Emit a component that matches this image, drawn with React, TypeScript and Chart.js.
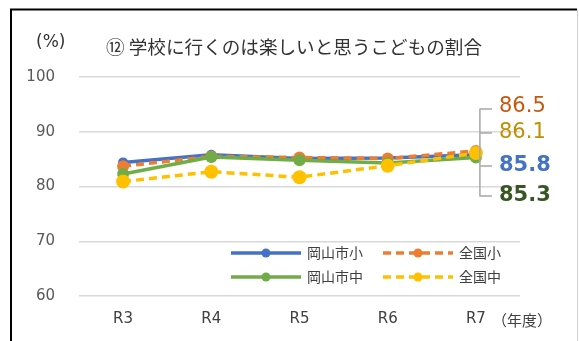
import React, { useEffect, useRef } from "react";
import { Chart, registerables } from "chart.js";

Chart.register(...registerables);

const categories = ["R3", "R4", "R5", "R6", "R7"];
const seriesNames = ["岡山市小", "全国小", "岡山市中", "全国中"];
const okayamaSho = [84.4, 85.8, 85.1, 85.2, 85.8];
const zenkokuSho = [83.7, 85.5, 85.3, 85.1, 86.5];
const okayamaChu = [82.3, 85.4, 84.8, 84.3, 85.3];
const zenkokuChu = [80.9, 82.7, 81.7, 83.8, 86.1];
const yTicks = [60, 70, 80, 90, 100];

const COLORS = ["#4472C4", "#ED7D31", "#70AD47", "#FFC000"];
const LABEL_COLORS = ["#4472C4", "#C65911", "#375623", "#BF9000"];
const FONT = '"Noto Sans CJK JP", "Noto Sans", sans-serif';
const LATIN = '"DejaVu Sans", "Noto Sans CJK JP", sans-serif';

const overlayPlugin = {
  id: "overlay",
  beforeDraw(chart: any) {
    const ctx = chart.ctx;
    ctx.save();
    ctx.fillStyle = "#ffffff";
    ctx.fillRect(0, 0, chart.width, chart.height);
    ctx.restore();
  },
  afterDraw(chart: any) {
    const ctx = chart.ctx;
    const xs = chart.scales.x;
    ctx.save();
    // frame
    ctx.strokeStyle = "#000000";
    ctx.lineWidth = 2;
    ctx.beginPath();
    ctx.moveTo(11, 341);
    ctx.lineTo(11, 9.5);
    ctx.lineTo(577, 9.5);
    ctx.stroke();
    ctx.strokeStyle = "#d0d0d0";
    ctx.lineWidth = 1;
    ctx.beginPath();
    ctx.moveTo(577.5, 10);
    ctx.lineTo(577.5, 341);
    ctx.stroke();

    // title and unit
    ctx.fillStyle = "#333333";
    ctx.textBaseline = "middle";
    ctx.textAlign = "left";
    ctx.font = `17px ${LATIN}`;
    ctx.fillText("(%)", 36, 43);
    ctx.font = `18.6px ${FONT}`;
    ctx.fillText("⑫ 学校に行くのは楽しいと思うこどもの割合", 106, 47);
    ctx.font = `15px ${FONT}`;
    ctx.fillStyle = "#404040";
    ctx.fillText("（年度）", 492, 320);

    // data labels at last point
    const last = categories.length - 1;
    const px = xs.getPixelForValue(last);
    const series = [
      { v: zenkokuSho[last], c: LABEL_COLORS[1], y: 107, bold: false },
      { v: zenkokuChu[last], c: LABEL_COLORS[3], y: 133, bold: false },
      { v: okayamaSho[last], c: LABEL_COLORS[0], y: 166, bold: true },
      { v: okayamaChu[last], c: LABEL_COLORS[2], y: 196, bold: true },
    ];
    ctx.strokeStyle = "#a6a6a6";
    ctx.lineWidth = 1.5;
    ctx.beginPath();
    ctx.moveTo(px + 4, 109);
    ctx.lineTo(px + 4, 196);
    for (const s of series) {
      const ly = s.y === 107 ? 109 : s.y;
      ctx.moveTo(px + 3.5, ly);
      ctx.lineTo(px + 16, ly);
    }
    ctx.stroke();
    for (const s of series) {
      ctx.font = `${s.bold ? "bold " : ""}21px ${LATIN}`;
      ctx.fillStyle = s.c;
      ctx.textAlign = "left";
      ctx.textBaseline = "middle";
      ctx.fillText(s.v.toFixed(1), 499, s.y);
    }

    // legend
    const legendItems = [
      { x: 231, y: 253, c: COLORS[0], dash: false, t: seriesNames[0] },
      { x: 383, y: 253, c: COLORS[1], dash: true, t: seriesNames[1] },
      { x: 231, y: 277, c: COLORS[2], dash: false, t: seriesNames[2] },
      { x: 383, y: 277, c: COLORS[3], dash: true, t: seriesNames[3] },
    ];
    for (const it of legendItems) {
      ctx.strokeStyle = it.c;
      ctx.lineWidth = 3.5;
      ctx.setLineDash(it.dash ? [8, 5] : []);
      ctx.beginPath();
      ctx.moveTo(it.x, it.y);
      ctx.lineTo(it.x + 70, it.y);
      ctx.stroke();
      ctx.setLineDash([]);
      ctx.fillStyle = it.c;
      ctx.beginPath();
      ctx.arc(it.x + 35, it.y, 4.5, 0, Math.PI * 2);
      ctx.fill();
      ctx.fillStyle = "#404040";
      ctx.font = `14px ${FONT}`;
      ctx.textAlign = "left";
      ctx.textBaseline = "middle";
      ctx.fillText(it.t, it.x + 76, it.y);
    }
    ctx.restore();
  },
};

export default function App() {
  const ref = useRef<HTMLCanvasElement | null>(null);
  useEffect(() => {
    if (!ref.current) return;
    const mk = (i: number, data: number[], dash: boolean, r: number, order: number) => ({
      label: seriesNames[i],
      data,
      borderColor: COLORS[i],
      backgroundColor: COLORS[i],
      pointBackgroundColor: COLORS[i],
      pointBorderColor: COLORS[i],
      pointBorderWidth: 0,
      pointRadius: r,
      borderWidth: 3.5,
      borderDash: dash ? [8, 5] : [],
      tension: 0,
      order,
    });
    const chart = new Chart(ref.current, {
      type: "line",
      data: {
        labels: categories,
        datasets: [
          mk(0, okayamaSho, false, 5, 4),
          mk(1, zenkokuSho, true, 6, 3),
          mk(2, okayamaChu, false, 6, 2),
          mk(3, zenkokuChu, true, 7, 1),
        ],
      },
      options: {
        responsive: false,
        animation: false,
        devicePixelRatio: 1,
        layout: { padding: { left: 0, top: 77, right: 59, bottom: 0 } },
        plugins: { legend: { display: false }, tooltip: { enabled: false } },
        scales: {
          x: {
            offset: true,
            grid: { display: false, drawTicks: false },
            border: { display: false },
            ticks: { font: { size: 15, family: LATIN }, color: "#404040", padding: 14 },
            afterFit: (s: any) => { s.height = 45; },
          },
          y: {
            min: 60,
            max: 100,
            afterBuildTicks: (s: any) => { s.ticks = yTicks.map((v) => ({ value: v })); },
            grid: { color: "#d9d9d9", lineWidth: 1.5, drawTicks: false },
            border: { display: false },
            ticks: { font: { size: 15, family: LATIN }, color: "#595959", padding: 24 },
            afterFit: (s: any) => { s.width = 79; },
          },
        },
      },
      plugins: [overlayPlugin],
    } as any);
    return () => chart.destroy();
  }, []);
  return (
    <div style={{ position: "absolute", left: 0, top: 0, width: 579, height: 341 }}>
      <canvas ref={ref} width={579} height={341} style={{ display: "block" }} />
    </div>
  );
}
